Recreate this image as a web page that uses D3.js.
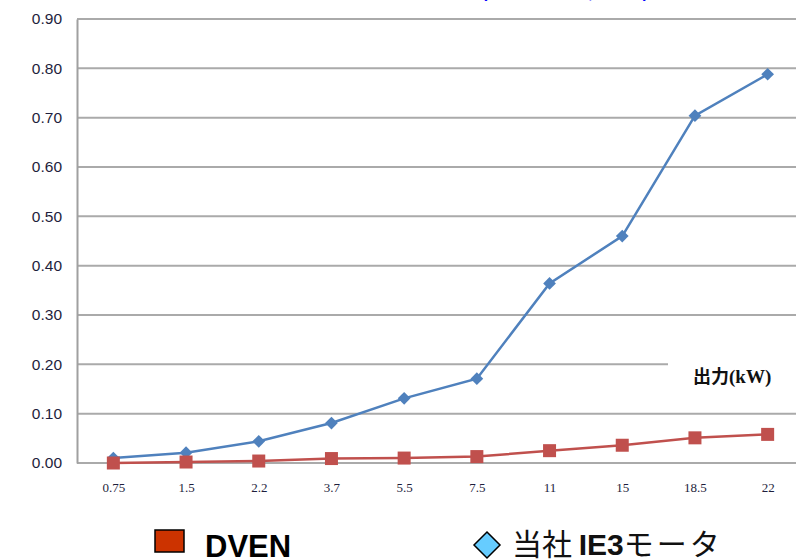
<!DOCTYPE html>
<html><head><meta charset="utf-8">
<script src="https://cdn.jsdelivr.net/npm/d3@7"></script>
<style>body{margin:0;background:#fff}svg{display:block}</style>
</head><body>
<svg id="c" width="796" height="560"></svg>
<script>
const categories = ["0.75","1.5","2.2","3.7","5.5","7.5","11","15","18.5","22"];
const ie3Values  = [0.010,0.021,0.044,0.081,0.131,0.171,0.364,0.460,0.704,0.788];
const dvenValues = [0.000,0.002,0.004,0.009,0.010,0.013,0.025,0.036,0.051,0.058];
const yTicks = [0,0.1,0.2,0.3,0.4,0.5,0.6,0.7,0.8,0.9];
const seriesNames = ["DVEN","当社 IE3モータ"];
const xTitle = ["出力","(kW)"];
const topTitle = "(EEEEEEEEE, EEEE)";

const svg = d3.select("#c");
const plotLeft = 77, plotTop = 19, plotBottom = 463;
const x = d3.scalePoint().domain(categories).range([plotLeft, 804]).padding(0.5);
const y = d3.scaleLinear().domain([0,0.9]).range([plotBottom, plotTop]);

// top clipped title (only descenders visible, as in the reference)
svg.append("text").attr("x",482).attr("y",-2).attr("fill","#0000ff")
  .attr("font-family","Arial, 'Liberation Sans', sans-serif").attr("font-size",16).attr("font-weight","bold")
  .attr("textLength",166).text(topTitle);

// grid
svg.append("g").selectAll("line").data(yTicks).join("line")
  .attr("x1",plotLeft).attr("x2",796).attr("y1",d=>y(d)).attr("y2",d=>y(d))
  .attr("stroke","#aaaaaa").attr("stroke-width",2);

const yAxis = d3.axisLeft(y).tickValues(yTicks).tickFormat(d3.format(".2f")).tickSize(0).tickPadding(15);
const gy = svg.append("g").attr("transform",`translate(${plotLeft},0)`).call(yAxis);
gy.select(".domain").attr("stroke","#a0a0a0").attr("stroke-width",2);
gy.selectAll("text").attr("font-family","Arial, 'Liberation Sans', sans-serif").attr("font-size",15.5).attr("fill","#1e1e3c");

// x labels
const xAxis = d3.axisBottom(x).tickSize(0).tickPadding(20);
const gx = svg.append("g").attr("transform",`translate(0,${plotBottom})`).call(xAxis);
gx.select(".domain").remove();
gx.selectAll("text").attr("font-family","'Liberation Serif', 'DejaVu Serif', serif").attr("font-size",13).attr("fill","#1e1e3c");

// white box + x title
svg.append("rect").attr("x",668).attr("y",y(0.2)-3).attr("width",128).attr("height",30).attr("fill","#fff");
const xt = svg.append("text").attr("x",693).attr("y",383).attr("font-weight","bold").attr("font-size",18).attr("fill","#111");
xt.append("tspan").attr("font-family","'Noto Sans CJK JP', sans-serif").text(xTitle[0]);
xt.append("tspan").attr("font-family","'Liberation Serif', serif").attr("font-size",19).text(xTitle[1]);

const line = d3.line().x((d,i)=>x(categories[i])).y(d=>y(d));
// blue
svg.append("path").datum(ie3Values).attr("d",line).attr("fill","none").attr("stroke","#4f81bd").attr("stroke-width",2.5);
svg.append("g").selectAll("rect").data(ie3Values).join("rect")
  .attr("x",-4.5).attr("y",-4.5).attr("width",9).attr("height",9)
  .attr("transform",(d,i)=>`translate(${x(categories[i])},${y(d)}) rotate(45)`).attr("fill","#4f81bd");
// red
svg.append("path").datum(dvenValues).attr("d",line).attr("fill","none").attr("stroke","#c0504d").attr("stroke-width",2.5);
svg.append("g").selectAll("rect").data(dvenValues).join("rect")
  .attr("x",(d,i)=>x(categories[i])-6.5).attr("y",d=>y(d)-6.5).attr("width",13).attr("height",13).attr("fill","#c0504d");

// legend
svg.append("rect").attr("x",155).attr("y",530).attr("width",29).attr("height",22).attr("fill","#cc3300").attr("stroke","#000").attr("stroke-width",1.5);
svg.append("text").attr("x",205).attr("y",557).attr("font-family","Arial, 'Liberation Sans', sans-serif").attr("font-weight","bold").attr("font-size",31).attr("fill","#000").text(seriesNames[0]);
svg.append("path").attr("d","M487,532 L500,545 L487,558 L474,545 Z").attr("fill","#66ccff").attr("stroke","#000").attr("stroke-width",1.5);
const t2 = svg.append("text").attr("x",512).attr("y",555).attr("font-family","'Noto Sans CJK JP', sans-serif").attr("font-size",30).attr("fill","#111");
t2.append("tspan").text("当社 ");
t2.append("tspan").attr("font-family","Arial, 'Liberation Sans', sans-serif").attr("font-weight","bold").text("IE3");
t2.append("tspan").attr("letter-spacing",3).text("モータ");
</script>
</body></html>
